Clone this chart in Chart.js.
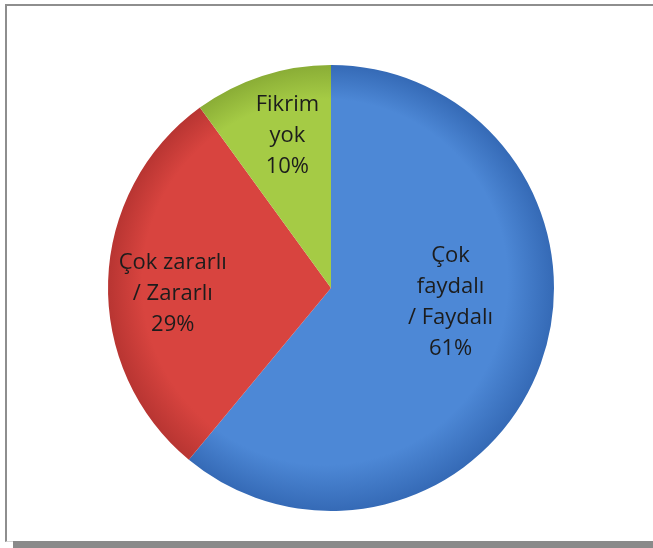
<!DOCTYPE html>
<html><head><meta charset="utf-8">
<script src="https://cdn.jsdelivr.net/npm/chart.js@4"></script>
<style>
html,body{margin:0;padding:0;background:#fff;}
#wrap{position:relative;width:653px;height:548px;overflow:hidden;}
#frame{position:absolute;left:5px;top:4px;width:660px;height:535px;border-left:2px solid #8e8e8e;border-top:2px solid #8e8e8e;border-bottom:1px solid #d8d8d8;background:#fff;}
#shadow{position:absolute;left:13px;top:541px;width:660px;height:7px;background:#8a8a8a;}
canvas{position:absolute;left:0;top:0;}
</style></head>
<body>
<div id="wrap"><div id="frame"></div><div id="shadow"></div><canvas id="c" width="653" height="548"></canvas></div>
<script>
const categories = [["Çok", "faydalı", "/ Faydalı"], ["Çok zararlı", "/ Zararlı"], ["Fikrim", "yok"]];
const values = [61, 29, 10];
const percentLabels = ["61%", "29%", "10%"];

const innerColors = ["#4d88d6", "#d8443f", "#a5cb45"];
const outerColors = ["#356ab6", "#b83532", "#8aad36"];
// label placement (style): radius fraction and angle shift in degrees
const labelStyle = [{f:0.54, da:-13}, {f:0.71, da:-4}, {f:0.71, da:2}];

const labelPlugin = {
  id: 'sliceLabels',
  afterDatasetsDraw(chart) {
    const ctx = chart.ctx;
    const meta = chart.getDatasetMeta(0);
    ctx.save();
    ctx.font = '22px "Open Sans", Lato, sans-serif';
    ctx.fillStyle = '#1c1c1c';
    ctx.textAlign = 'center';
    ctx.textBaseline = 'middle';
    meta.data.forEach((arc, i) => {
      const p = arc.getProps(['x','y','startAngle','endAngle','outerRadius'], true);
      const mid = (p.startAngle + p.endAngle) / 2 + labelStyle[i].da * Math.PI / 180;
      const r = p.outerRadius * labelStyle[i].f;
      const cx = p.x + Math.cos(mid) * r;
      const cy = p.y + Math.sin(mid) * r;
      const lines = categories[i].concat([percentLabels[i]]);
      const lh = 31;
      const y0 = cy - (lines.length - 1) * lh / 2;
      lines.forEach((t, k) => ctx.fillText(t, cx, y0 + k * lh));
    });
    ctx.restore();
  }
};

function sliceFill(c) {
  const i = c.dataIndex ?? 0;
  const chart = c.chart;
  const a = chart.chartArea;
  if (!a) return innerColors[i];
  const x = (a.left + a.right) / 2, y = (a.top + a.bottom) / 2;
  const r = Math.min(a.right - a.left, a.bottom - a.top) / 2;
  if (!isFinite(x) || !isFinite(r) || r <= 0) return innerColors[i];
  const g = chart.ctx.createRadialGradient(x - r*0.15, y - r*0.15, 0, x, y, r);
  g.addColorStop(0, innerColors[i]);
  g.addColorStop(0.82, innerColors[i]);
  g.addColorStop(1, outerColors[i]);
  return g;
}

new Chart(document.getElementById('c'), {
  type: 'pie',
  data: {
    labels: categories.map(l => l.join(' ')),
    datasets: [{
      data: values,
      backgroundColor: sliceFill,
      borderWidth: 0
    }]
  },
  options: {
    responsive: false,
    animation: false,
    layout: {padding: {left: 108, right: 99, top: 65, bottom: 37}},
    plugins: {legend: {display: false}, tooltip: {enabled: false}}
  },
  plugins: [labelPlugin]
});
</script>
</body></html>
